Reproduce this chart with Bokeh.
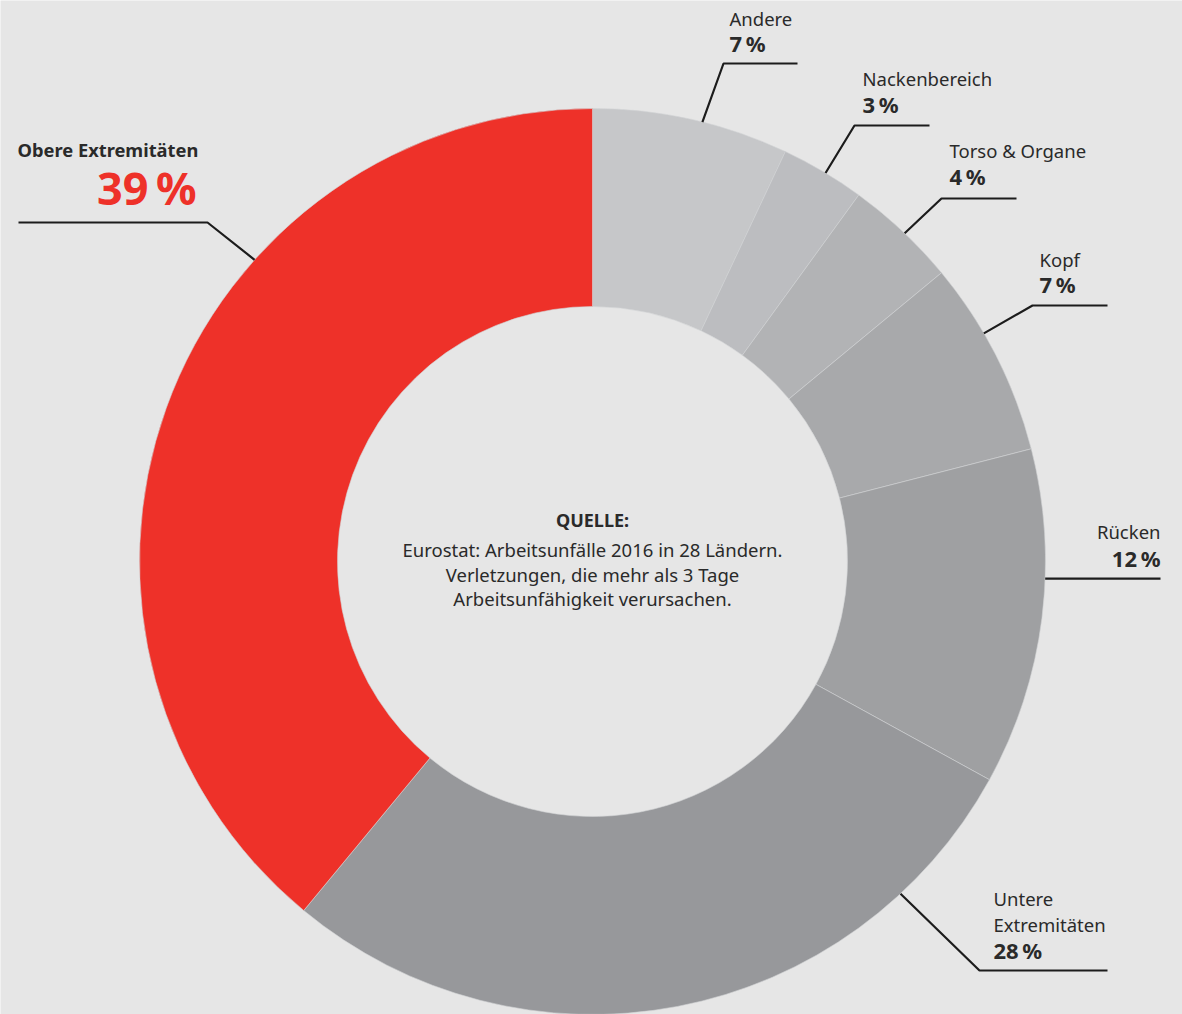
import math
from bokeh.plotting import figure
from bokeh.models import Range1d
from bokeh.core.properties import value
from bokeh.embed import file_html
from bokeh.resources import INLINE

# ---------------- data ----------------
categories = ["Andere", "Nackenbereich", "Torso & Organe", "Kopf", "Rücken",
              "Untere Extremitäten", "Obere Extremitäten"]
shares = [7, 3, 4, 7, 12, 28, 39]
label_lines = [["Andere"], ["Nackenbereich"], ["Torso & Organe"], ["Kopf"], ["Rücken"],
               ["Untere", "Extremitäten"], ["Obere Extremitäten"]]
source_title = "QUELLE:"
source_lines = ["Eurostat: Arbeitsunfälle 2016 in 28 Ländern.",
                "Verletzungen, die mehr als 3 Tage",
                "Arbeitsunfähigkeit verursachen."]

# ---------------- style / layout ----------------
colors = ["#c6c7c9", "#bcbdc0", "#b2b3b5", "#a8a9ab", "#9fa0a2", "#97989b", "#ee3129"]
BG = "#e6e6e6"
INK = "#2a2a2a"
RED = "#ee3129"
FONT = "Noto Sans"
W, H = 1182, 1014
CX, CY = 592, 561          # screen coords of donut centre
R_OUT, R_IN = 453, 255
NAME_SIZE = 18.5
PCT_SIZE = 22
SHIFT = 0.43               # empirical baseline correction (fraction of font size)

def sy(y):  # screen y -> data y
    return H - y

def base(y, size):  # desired baseline (screen) -> data y for the text glyph
    return sy(y - SHIFT * size)

# per-label layout: (text x, align, name baselines, pct baseline, anchor fraction, elbow, end x)
layout = [
    (729, "left", [26], 52, 0.039, (723, 63), 797),
    (862, "left", [86], 113, 0.086, (854, 125), 929),
    (949, "left", [158], 185, 0.121, (941, 198), 1016),
    (1039, "left", [267], 293, 0.166, (1032, 305), 1107),
    (1160, "right", [539], 567, 0.256, None, 1160),
    (993, "left", [906, 932], 959, 0.381, (979, 970), 1107),
]
obere_layout = dict(name_x=17, name_base=157, pct_right=196, pct_base=206,
                    anchor=0.866, elbow=(207, 222), end_x=18)

p = figure(width=W, height=H, output_backend="svg", toolbar_location=None,
           x_range=Range1d(0, W), y_range=Range1d(0, H), min_border=0)
p.axis.visible = False
p.grid.visible = False
p.outline_line_color = None
p.background_fill_color = BG
p.border_fill_color = BG

# ---------------- donut ----------------
total = sum(shares)
cum = 0
starts, ends = [], []
for v in shares:
    f0 = cum / total
    cum += v
    f1 = cum / total
    starts.append(math.pi / 2 - 2 * math.pi * f1)
    ends.append(math.pi / 2 - 2 * math.pi * f0)

p.annular_wedge(x=[CX] * len(shares), y=[sy(CY)] * len(shares),
                inner_radius=R_IN, outer_radius=R_OUT,
                start_angle=starts, end_angle=ends,
                fill_color=colors, line_color="#d2d3d5", line_width=0.6)

def ring_point(frac):
    a = 2 * math.pi * frac
    return CX + R_OUT * math.sin(a), CY - R_OUT * math.cos(a)

# ---------------- leader lines & labels ----------------
for i, (tx, align, name_bases, pct_base, anc, elbow, end_x) in enumerate(layout):
    ax, ay = ring_point(anc)
    if elbow is None:
        xs, ys = [ax, end_x], [ay, ay]
    else:
        xs = [ax, elbow[0], end_x]
        ys = [ay, elbow[1], elbow[1]]
    p.line(xs, [sy(y) for y in ys], line_color="#1c1c1c", line_width=2.2)
    for line, b in zip(label_lines[i], name_bases):
        p.text(x=[tx], y=[base(b, NAME_SIZE)], text=[line], text_font=value(FONT),
               text_font_size=f"{NAME_SIZE}px", text_color=INK, text_align=align,
               text_baseline="alphabetic")
    p.text(x=[tx], y=[base(pct_base, PCT_SIZE)], text=[f"{shares[i]}\u2009%"],
           text_font=value(FONT), text_font_size=f"{PCT_SIZE}px", text_font_style="bold",
           text_color=INK, text_align=align, text_baseline="alphabetic")

# Obere Extremitäten (highlight)
ax, ay = ring_point(obere_layout["anchor"])
ex, ey = obere_layout["elbow"]
p.line([ax, ex, obere_layout["end_x"]], [sy(ay), sy(ey), sy(ey)],
       line_color="#1c1c1c", line_width=2.2)
p.text(x=[obere_layout["name_x"]], y=[base(obere_layout["name_base"], 18.3)],
       text=[label_lines[6][0]], text_font=value(FONT), text_font_size="18.3px",
       text_font_style="bold", text_color=INK, text_align="left", text_baseline="alphabetic")
p.text(x=[obere_layout["pct_right"]], y=[base(obere_layout["pct_base"], 45)],
       text=[f"{shares[6]}\u2009%"], text_font=value(FONT), text_font_size="45px",
       text_font_style="bold", text_color=RED, text_align="right",
       text_baseline="alphabetic")

# ---------------- centre source text ----------------
p.text(x=[CX], y=[base(527, 18)], text=[source_title], text_font=value(FONT),
       text_font_size="18px", text_font_style="bold", text_color=INK,
       text_align="center", text_baseline="alphabetic")
for line, b in zip(source_lines, [557, 582, 606]):
    p.text(x=[CX], y=[base(b, NAME_SIZE)], text=[line], text_font=value(FONT),
           text_font_size=f"{NAME_SIZE}px", text_color=INK, text_align="center",
           text_baseline="alphabetic")

html = file_html(p, INLINE)
open("out.html", "w").write(html)
